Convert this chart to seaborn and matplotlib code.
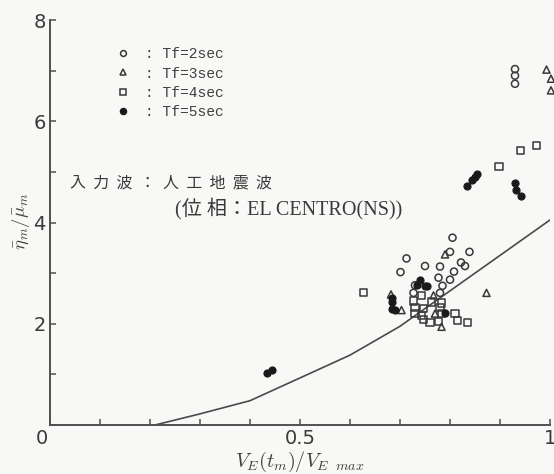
import numpy as np
import pandas as pd
import seaborn as sns
import matplotlib
matplotlib.use("Agg")
import matplotlib.pyplot as plt
from matplotlib.lines import Line2D

# ---- data -------------------------------------------------------------
tf2_x = [0.93, 0.93, 0.93, 0.805, 0.839, 0.80, 0.713, 0.822, 0.83, 0.75, 0.78,
         0.701, 0.808, 0.777, 0.80, 0.785, 0.73, 0.727, 0.78]
tf2_y = [7.03, 6.90, 6.74, 3.70, 3.42, 3.42, 3.29, 3.21, 3.14, 3.14, 3.13,
         3.02, 3.03, 2.91, 2.87, 2.75, 2.76, 2.61, 2.61]

tf3_x = [0.993, 1.002, 1.002, 0.79, 0.873, 0.682, 0.703, 0.767, 0.77, 0.783]
tf3_y = [7.02, 6.84, 6.61, 3.37, 2.61, 2.58, 2.27, 2.56, 2.20, 1.94]

tf4_x = [0.973, 0.941, 0.898, 0.627, 0.743, 0.727, 0.763, 0.783, 0.73, 0.747,
         0.78, 0.73, 0.743, 0.783, 0.81, 0.815, 0.835, 0.747, 0.76, 0.777]
tf4_y = [5.52, 5.42, 5.11, 2.61, 2.56, 2.45, 2.43, 2.41, 2.33, 2.30,
         2.32, 2.20, 2.17, 2.20, 2.20, 2.07, 2.02, 2.08, 2.02, 2.04]

tf5_x = [0.434, 0.444, 0.834, 0.843, 0.849, 0.853, 0.93, 0.932, 0.941, 0.74,
         0.733, 0.75, 0.753, 0.683, 0.683, 0.683, 0.69, 0.79]
tf5_y = [1.03, 1.08, 4.73, 4.83, 4.90, 4.95, 4.79, 4.65, 4.52, 2.87,
         2.77, 2.75, 2.74, 2.50, 2.42, 2.30, 2.27, 2.22]

curve_x = [0.21, 0.30, 0.40, 0.50, 0.60, 0.70, 0.80, 0.90, 1.00]
curve_y = [0.00, 0.22, 0.48, 0.93, 1.38, 1.95, 2.65, 3.35, 4.05]

series_labels = ["Tf=2sec", "Tf=3sec", "Tf=4sec", "Tf=5sec"]
x_ticks = [0, 0.5, 1]
x_ticklabels = ["", "0.5", "1"]
y_ticks = [0, 2, 4, 6, 8]
y_ticklabels = ["", "2", "4", "6", "8"]

note_line1 = "入  力  波  ：  人  工  地  震  波"
note_line2 = "(位 相：EL CENTRO(NS))"

# ---- style ------------------------------------------------------------
sns.set_style("ticks")
plt.rcParams["mathtext.fontset"] = "cm"
plt.rcParams["font.family"] = ["DejaVu Sans", "Noto Sans CJK JP"]

ink = "#383838"
bg = "#f8f8f6"

fig = plt.figure(figsize=(5.54, 4.74), dpi=100, facecolor=bg)
ax = fig.add_axes([50 / 554, 49 / 474, 500 / 554, 405 / 474])
ax.set_facecolor(bg)

sns.lineplot(x=curve_x, y=curve_y, ax=ax, color="#4a4a4a", linewidth=1.2)

common = dict(ax=ax, s=26, clip_on=False, legend=False, zorder=3)
sns.scatterplot(x=tf2_x, y=tf2_y, marker="o", facecolors="none",
                edgecolors=ink, linewidths=1.1, **common)
sns.scatterplot(x=tf3_x, y=tf3_y, marker="^", facecolors="none",
                edgecolors=ink, linewidths=1.1, **common)
sns.scatterplot(x=tf4_x, y=tf4_y, marker="s", facecolors="none",
                edgecolors=ink, linewidths=1.1, **common)
sns.scatterplot(x=tf5_x, y=tf5_y, marker="o", color="#1a1a1a",
                edgecolors="#1a1a1a", linewidths=0.8, **common)

ax.set_xlim(0, 1)
ax.set_ylim(0, 8)
sns.despine(ax=ax)
for sp in ("left", "bottom"):
    ax.spines[sp].set_color("#505050")
    ax.spines[sp].set_linewidth(1.4)

ax.set_xticks(x_ticks)
ax.set_xticklabels(x_ticklabels)
ax.set_xticks(np.arange(0, 1.01, 0.1), minor=True)
ax.set_yticks(y_ticks)
ax.set_yticklabels(y_ticklabels)
ax.set_yticks([1, 3, 5, 7], minor=True)
ax.tick_params(axis="both", which="both", direction="in", color="#505050",
               width=1.1, labelsize=14, labelcolor="#3a3a3a")
ax.tick_params(axis="both", which="major", length=4, pad=3)
ax.tick_params(axis="both", which="minor", length=4)
ax.annotate("0", xy=(0, 0), xytext=(-6, -3), textcoords="offset points",
            ha="center", va="top", fontsize=14, color="#3a3a3a",
            annotation_clip=False)

ax.set_xlabel(r"$V_E(t_m)/V_{E\ \ max}$", fontsize=14.5, color="#404040",
              labelpad=1)
ax.set_ylabel(r"$\bar{\eta}_m/\bar{\mu}_m$", fontsize=13.5, color="#404040")
ax.yaxis.set_label_coords(-0.036, (425 - 221) / 405)

# legend
handles = [
    Line2D([], [], ls="none", marker="o", ms=4.2, mfc="none", mec=ink, mew=1.1),
    Line2D([], [], ls="none", marker="^", ms=4.2, mfc="none", mec=ink, mew=1.1),
    Line2D([], [], ls="none", marker="s", ms=4.0, mfc="none", mec=ink, mew=1.1),
    Line2D([], [], ls="none", marker="o", ms=4.4, mfc="#1a1a1a", mec="#1a1a1a"),
]
labels = [": " + s for s in series_labels]
leg = ax.legend(handles, labels, loc="upper left",
                bbox_to_anchor=(0.105, 0.965), frameon=False,
                handletextpad=1.0, handlelength=1.0, labelspacing=0.36,
                prop={"family": "Liberation Mono", "size": 10.5})
for t in leg.get_texts():
    t.set_color("#404040")

ax.text(20 / 500, (425 - 183) / 405, note_line1, transform=ax.transAxes,
        fontsize=11.5, color="#3a3a3a", va="center", ha="left",
        family=["Noto Sans CJK JP", "DejaVu Sans"])
ax.text(125 / 500, (425 - 209) / 405, note_line2, transform=ax.transAxes,
        fontsize=14.5, color="#3a3a3a", va="center", ha="left",
        family=["Liberation Serif", "Noto Sans CJK JP"])

fig.savefig("out.png", dpi=100, facecolor=bg)
